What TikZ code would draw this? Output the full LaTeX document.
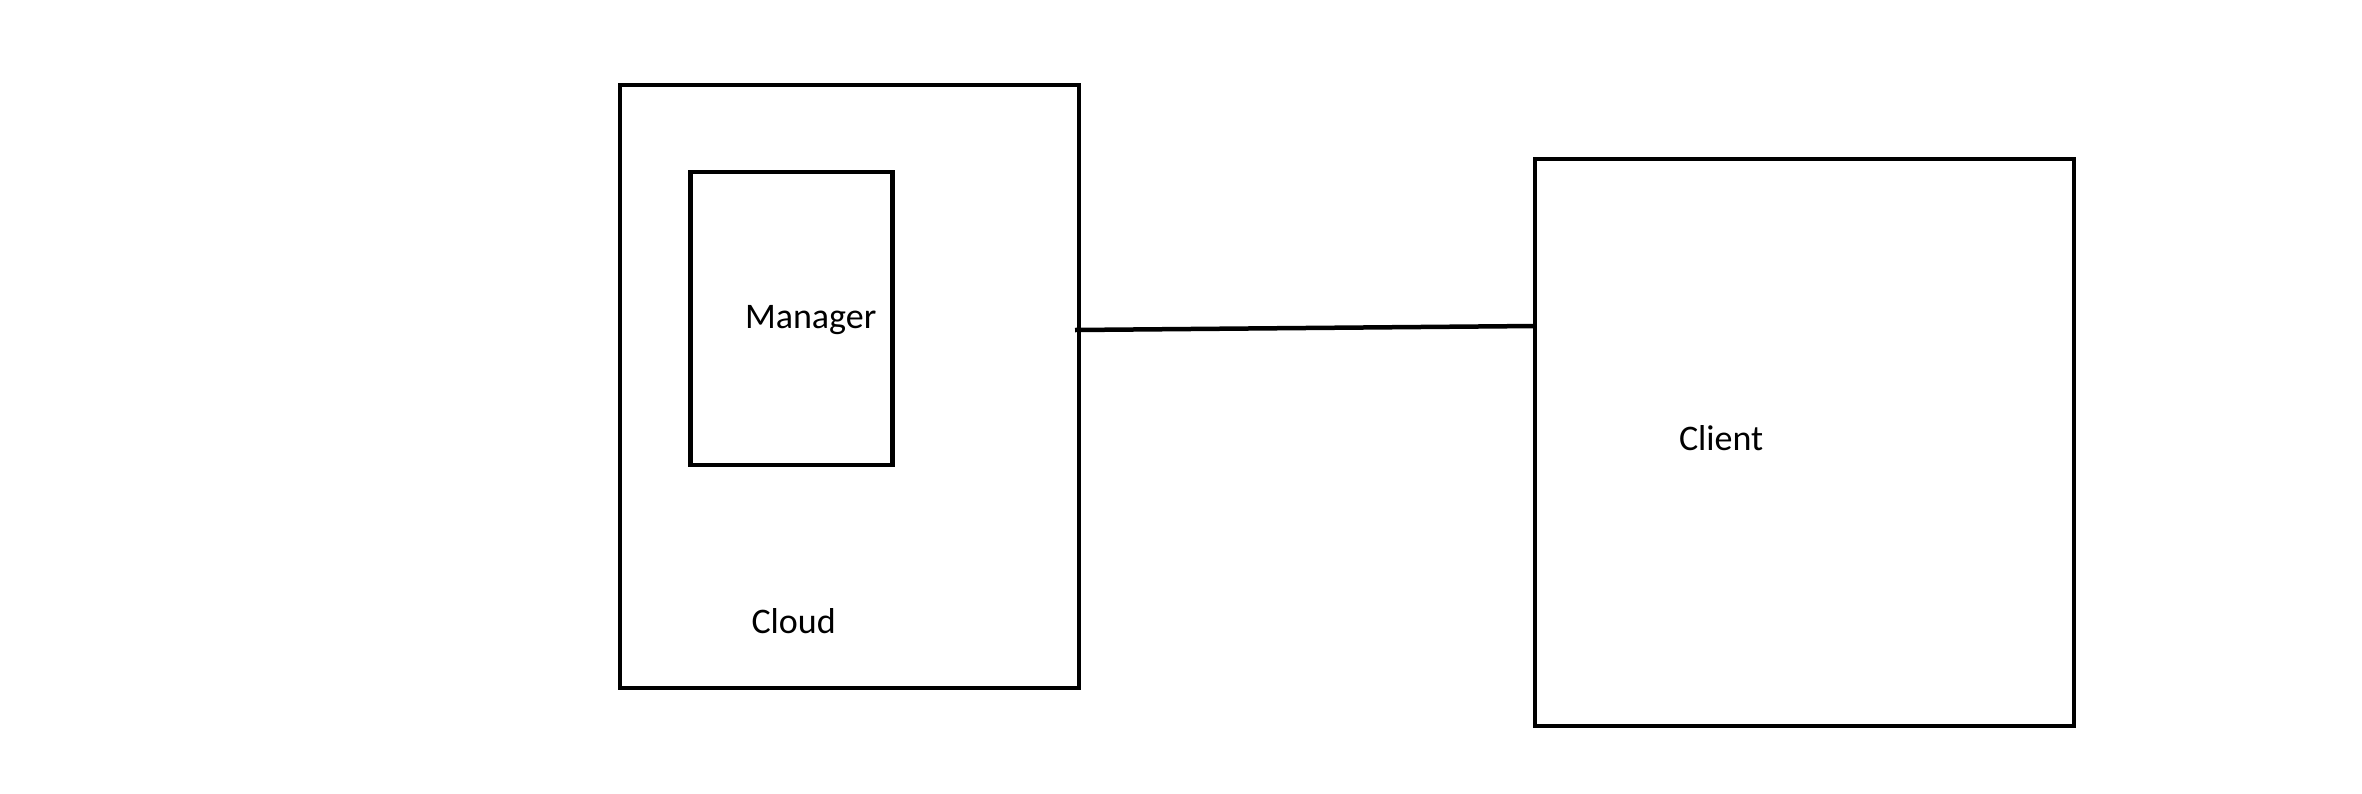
\documentclass[tikz,border=0pt]{standalone}
\usepackage{fontspec}
\setmainfont{Carlito}
\begin{document}
\begin{tikzpicture}[x=1pt,y=-1pt,
  box/.style={draw=black, line width=4.5pt, inner sep=0pt, outer sep=0pt, rectangle},
  lbl/.style={inner sep=0pt, outer sep=0pt, anchor=base west, font=\fontsize{36pt}{40pt}\selectfont},
  conn/.style={draw=black, line width=4.5pt}]
\useasboundingbox[fill=white] (0,0) rectangle (2362,793);
\node[box, minimum width=459pt, minimum height=603pt] (cloud) at (849.5,386.5) {};
\node[box, minimum width=202pt, minimum height=293pt] (manager) at (791.5,318.5) {};
\node[box, minimum width=539pt, minimum height=567pt] (client) at (1804.5,442.5) {};
\node[lbl] (managerlbl) at (745,328) {Manager};
\node[lbl] (cloudlbl) at (751.5,633) {Cloud};
\node[lbl] (clientlbl) at (1679,450) {Client};
\coordinate (a) at (cloud.east |- 0,330);
\coordinate (b) at (client.west |- 0,326);
\draw[conn] ([xshift=-4pt]a) -- (b);
\end{tikzpicture}
\end{document}
